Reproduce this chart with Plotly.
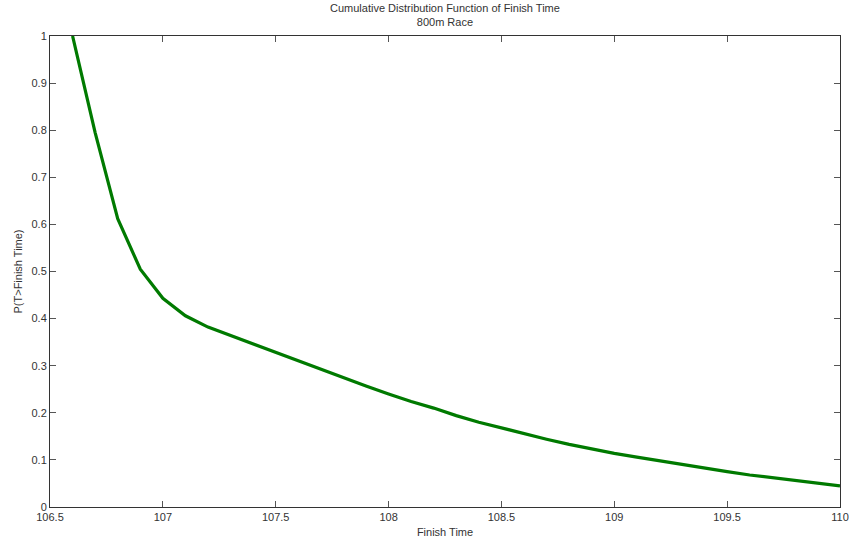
import plotly.graph_objects as go

finish_time = [106.6, 106.7, 106.8, 106.9, 107.0, 107.1, 107.2, 107.3, 107.4, 107.5,
               107.6, 107.7, 107.8, 107.9, 108.0, 108.1, 108.2, 108.3, 108.4, 108.5,
               108.6, 108.7, 108.8, 108.9, 109.0, 109.1, 109.2, 109.3, 109.4, 109.5,
               109.6, 109.7, 109.8, 109.9, 110.0]
prob = [1.0, 0.795, 0.612, 0.505, 0.443, 0.406, 0.382, 0.364, 0.346, 0.328,
        0.311, 0.293, 0.275, 0.257, 0.240, 0.224, 0.210, 0.194, 0.180, 0.168,
        0.155, 0.144, 0.133, 0.123, 0.114, 0.106, 0.098, 0.090, 0.082, 0.075,
        0.068, 0.062, 0.056, 0.050, 0.045]

x_ticks = [106.5, 107, 107.5, 108, 108.5, 109, 109.5, 110]
x_tick_labels = ["106.5", "107", "107.5", "108", "108.5", "109", "109.5", "110"]
y_ticks = [0, 0.1, 0.2, 0.3, 0.4, 0.5, 0.6, 0.7, 0.8, 0.9, 1]
y_tick_labels = ["0", "0.1", "0.2", "0.3", "0.4", "0.5", "0.6", "0.7", "0.8", "0.9", "1"]

FONT = "Liberation Sans, Arial, sans-serif"

fig = go.Figure()
fig.add_trace(go.Scatter(x=finish_time, y=prob, mode="lines",
                         line=dict(color="#007a00", width=3.2), showlegend=False))

axis_common = dict(showgrid=False, zeroline=False, showline=True, linecolor="#333333",
                   linewidth=1, mirror="ticks", ticks="inside", ticklen=6,
                   tickcolor="#555555", automargin=False,
                   tickfont=dict(family=FONT, size=11, color="#333333"))

fig.update_layout(
    width=849, height=546,
    margin=dict(l=50, r=9, t=36, b=39),
    paper_bgcolor="white", plot_bgcolor="white",
    font=dict(family=FONT, size=11, color="#333333"),
    xaxis=dict(range=[106.5, 110], tickvals=x_ticks, ticktext=x_tick_labels,
               title=dict(text="Finish Time", standoff=6, font=dict(size=11)),
               **axis_common),
    yaxis=dict(range=[0, 1], tickvals=y_ticks, ticktext=y_tick_labels,
               title=dict(text="P(T>Finish Time)", standoff=6, font=dict(size=11)),
               **axis_common),
    annotations=[
        dict(text="Cumulative Distribution Function of Finish Time<br>800m Race",
             x=0.5, y=1, xref="paper", yref="paper", xanchor="center", yanchor="bottom",
             yshift=6, showarrow=False, font=dict(family=FONT, size=11, color="#333333"))
    ],
)

fig.write_html("out.html")
